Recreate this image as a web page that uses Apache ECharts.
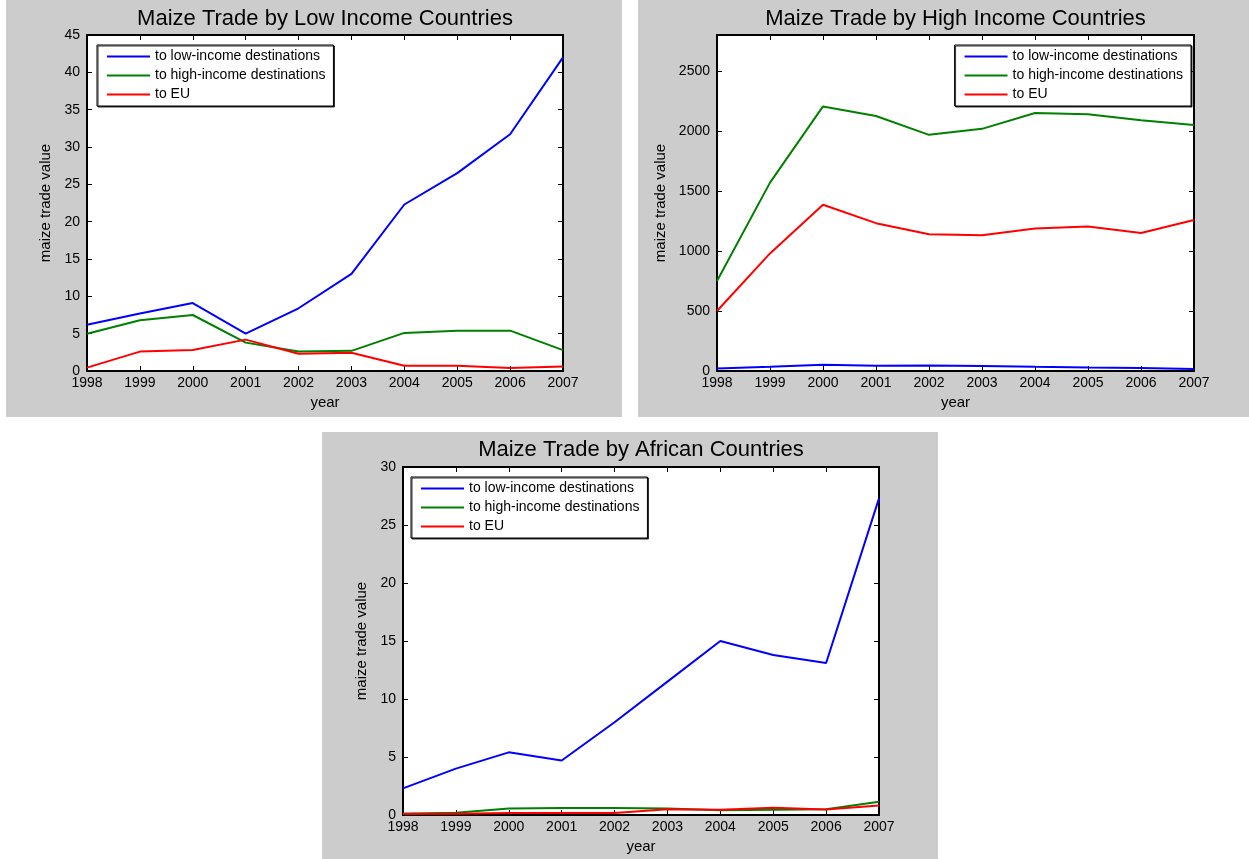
<!DOCTYPE html>
<html>
<head>
<meta charset="utf-8">
<script src="https://cdn.jsdelivr.net/npm/echarts@6/dist/echarts.min.js"></script>
<style>
  html, body { margin: 0; padding: 0; background: #ffffff; width: 1249px; height: 859px; overflow: hidden; }
  .panel { position: absolute; background: #cccccc; }
</style>
</head>
<body>
<div id="p1" class="panel" style="left:6px;top:0px;width:616px;height:417px"></div>
<div id="p2" class="panel" style="left:638px;top:0px;width:611px;height:417px"></div>
<div id="p3" class="panel" style="left:322px;top:432px;width:616px;height:427px"></div>
<script>
// Years on the x axis
const years = ['1998', '1999', '2000', '2001', '2002', '2003', '2004', '2005', '2006', '2007'];
const seriesNames = ['to low-income destinations', 'to high-income destinations', 'to EU'];
const seriesColors = ['#0000ff', '#008000', '#ff0000'];

// Exports of low income countries
const lowToLow  = [6.2, 7.7, 9.1, 5.0, 8.4, 13.0, 22.3, 26.5, 31.7, 42.0];
const lowToHigh = [5.0, 6.8, 7.5, 3.8, 2.6, 2.7, 5.1, 5.4, 5.4, 2.8];
const lowToEU   = [0.45, 2.6, 2.8, 4.2, 2.3, 2.45, 0.7, 0.7, 0.4, 0.6];

// Exports of high income countries
const highToLow  = [20, 35, 52, 44, 46, 42, 35, 29, 26, 17];
const highToHigh = [750, 1570, 2205, 2125, 1968, 2018, 2150, 2140, 2090, 2050];
const highToEU   = [500, 980, 1385, 1232, 1140, 1132, 1188, 1205, 1150, 1258];

// Exports of African countries
const afrToLow  = [2.3, 4.0, 5.4, 4.7, 8.0, 11.5, 15.0, 13.8, 13.1, 27.3];
const afrToHigh = [0.1, 0.2, 0.55, 0.6, 0.6, 0.55, 0.4, 0.45, 0.5, 1.15];
const afrToEU   = [0.1, 0.1, 0.18, 0.18, 0.18, 0.5, 0.45, 0.62, 0.48, 0.82];

const FONT = '"Liberation Sans", Arial, Helvetica, sans-serif';

function buildOption(cfg) {
  const g = cfg.grid;
  const tick = { show: true, inside: true, length: 5, lineStyle: { color: '#000', width: 1 } };
  const line = { show: true, onZero: false, lineStyle: { color: '#000', width: 2 } };
  const yBase = { type: 'value', min: 0, max: cfg.yMax, interval: cfg.yInterval, splitLine: { show: false } };
  return {
    animation: false,
    textStyle: { fontFamily: FONT },
    title: {
      text: cfg.title,
      left: g.left + g.width / 2,
      top: cfg.titleTop,
      textAlign: 'center',
      padding: 0,
      textStyle: { fontFamily: FONT, fontSize: 22, fontWeight: 'normal', color: '#000' }
    },
    grid: {
      left: g.left, top: g.top, width: g.width, height: g.height, containLabel: false,
      show: true, backgroundColor: '#ffffff', borderWidth: 0
    },
    legend: Object.assign({
      orient: 'vertical',
      data: seriesNames,
      icon: 'rect',
      itemWidth: 43,
      itemHeight: 2,
      itemGap: 4,
      padding: [4, 8, 4, 10],
      backgroundColor: '#ffffff',
      borderColor: '#000000',
      borderWidth: 1,
      shadowColor: 'rgba(0,0,0,0.8)',
      shadowOffsetX: 1,
      shadowOffsetY: 1,
      shadowBlur: 0,
      selectedMode: false,
      textStyle: { fontFamily: FONT, fontSize: 14, color: '#000', lineHeight: 15 }
    }, cfg.legendPos),
    xAxis: [
      {
        type: 'category', data: years, boundaryGap: false, position: 'bottom',
        name: 'year', nameLocation: 'middle', nameGap: 22,
        nameTextStyle: { fontFamily: FONT, fontSize: 15, color: '#000' },
        axisLine: line, axisTick: tick,
        axisLabel: { margin: 5, fontFamily: FONT, fontSize: 14, color: '#000' }
      },
      {
        type: 'category', data: years, boundaryGap: false, position: 'top',
        axisLine: line, axisTick: tick, axisLabel: { show: false }
      }
    ],
    yAxis: [
      Object.assign({}, yBase, {
        position: 'left',
        name: 'maize trade value', nameLocation: 'middle', nameGap: cfg.yNameGap,
        nameTextStyle: { fontFamily: FONT, fontSize: 15, color: '#000' },
        axisLine: line, axisTick: tick,
        axisLabel: {
          margin: 7, fontFamily: FONT, fontSize: 14, color: '#000',
          showMaxLabel: !cfg.hideMaxLabel,
          formatter: v => String(v)
        }
      }),
      Object.assign({}, yBase, {
        position: 'right',
        axisLine: line, axisTick: tick, axisLabel: { show: false }
      })
    ],
    series: cfg.values.map((vals, i) => ({
      name: seriesNames[i],
      type: 'line',
      data: vals,
      xAxisIndex: 0,
      yAxisIndex: 0,
      symbol: 'none',
      color: seriesColors[i],
      lineStyle: { color: seriesColors[i], width: 2 },
      z: 3 + i
    }))
  };
}

const panels = [
  {
    el: 'p1', title: 'Maize Trade by Low Income Countries', titleTop: 8,
    grid: { left: 81, top: 35, width: 476, height: 336 },
    yMax: 45, yInterval: 5, hideMaxLabel: false, yNameGap: 30,
    legendPos: { left: 91, top: 45 },
    values: [lowToLow, lowToHigh, lowToEU]
  },
  {
    el: 'p2', title: 'Maize Trade by High Income Countries', titleTop: 8,
    grid: { left: 79, top: 35, width: 477, height: 336 },
    yMax: 2800, yInterval: 500, hideMaxLabel: true, yNameGap: 42,
    legendPos: { right: 58, top: 45 },
    values: [highToLow, highToHigh, highToEU]
  },
  {
    el: 'p3', title: 'Maize Trade by African Countries', titleTop: 7,
    grid: { left: 81, top: 35, width: 476, height: 348 },
    yMax: 30, yInterval: 5, hideMaxLabel: false, yNameGap: 31,
    legendPos: { left: 89, top: 45 },
    values: [afrToLow, afrToHigh, afrToEU]
  }
];

panels.forEach(p => {
  const chart = echarts.init(document.getElementById(p.el), null, { renderer: 'canvas' });
  chart.setOption(buildOption(p));
});
</script>
</body>
</html>
